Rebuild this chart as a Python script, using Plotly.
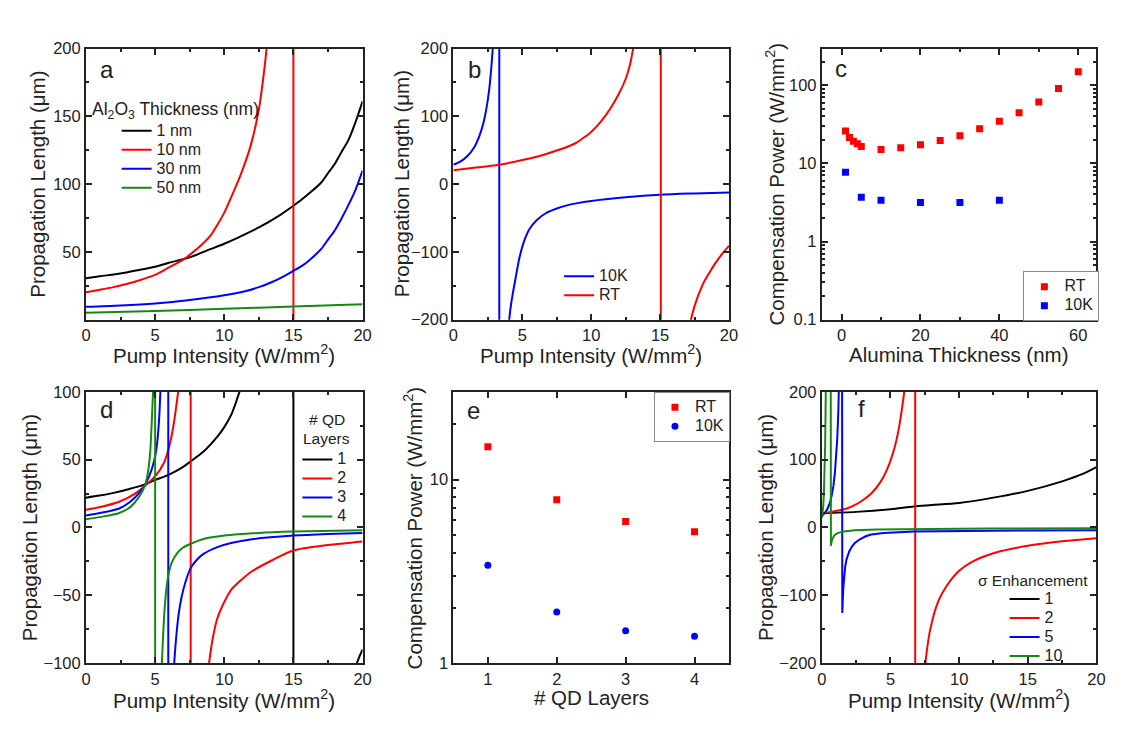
import plotly.graph_objects as go

W, H = 1139, 734
FONT = "Liberation Sans, Arial, sans-serif"
TXT = "#222222"

# ---------------- Panel a: Al2O3 thickness ----------------
a_x_1nm = [0, 1, 2.5, 4, 5, 6, 7.5, 9, 10, 11, 12.5, 14, 15, 16, 17, 17.5, 18, 18.5, 19, 19.5, 20]
a_y_1nm = [30.5, 32, 34, 37, 39, 42, 46, 52, 56, 60.5, 68, 77, 84, 92, 101, 108, 115, 124, 133, 146, 161]
a_x_10nm = [0, 1, 2, 3, 4, 5, 6, 7.14, 8, 8.5, 9, 9.5, 10, 10.7, 11.3, 11.9, 12.5, 12.9, 13.1, 13.3,
            15.0, 15.0, 15.0, 15.0, 20]
a_y_10nm = [20.2, 22, 24, 26.5, 29.5, 33, 38.5, 45, 52, 56.5, 62, 70, 79, 95, 110, 128, 155, 185, 205, 260,
            700, 300, -300, -700, -400]
a_x_30nm = [0, 2.5, 5, 7.5, 10, 11.5, 12.5, 13.5, 14.3, 15, 15.8, 16.5, 17, 17.5, 18, 18.5, 19, 19.5, 20]
a_y_30nm = [9.5, 10.5, 12, 14.5, 18, 21, 24, 28, 32, 36, 41, 47, 52, 59, 66, 75, 85, 96, 110]
a_x_50nm = [0, 5, 10, 15, 20]
a_y_50nm = [5.2, 6.5, 8, 9.7, 11.4]

# ---------------- Panel b: 10K vs RT ----------------
b_x_10K = [0, 0.5, 1.0, 1.5, 1.9, 2.2, 2.4, 2.6, 2.75, 2.87, 3.0, 3.33, 3.33, 3.33, 3.33, 3.95, 4.05, 4.2,
           4.5, 4.8, 5.1, 5.5, 6, 6.7, 7.5, 8.3, 10, 12.5, 15, 17.5, 20]
b_y_10K = [28.6, 33, 41, 54, 72, 92, 112, 140, 172, 205, 260, 700, 260, -260, -700, -230, -200, -175,
           -140, -108, -86, -67, -54, -43, -36, -31, -25, -19.5, -15.7, -13.8, -12.4]
b_x_RT = [0, 1.5, 3.3, 5, 6.5, 7.5, 8.5, 9, 9.5, 10, 10.7, 11.4, 12, 12.5, 12.8, 13, 13.2,
          15.05, 15.05, 15.05, 15.05, 17.1, 17.5, 18.1, 18.6, 19, 19.5, 20]
b_y_RT = [20.5, 24, 28.6, 35.5, 43, 49.5, 57, 62, 69, 77, 92, 112, 133, 155, 175, 195, 225,
          700, 260, -260, -700, -215, -180, -148, -130, -117, -103, -91]

# ---------------- Panel c: compensation power vs alumina thickness ----------------
c_x_RT = [1, 2, 3, 4, 5, 10, 15, 20, 25, 30, 35, 40, 45, 50, 55, 60]
c_y_RT = [26, 21.5, 19.2, 17.8, 16.5, 15.1, 15.8, 17.3, 19.6, 22.6, 27.7, 34.5, 44.6, 61, 90.6, 149]
c_x_10K = [1, 5, 10, 20, 30, 40]
c_y_10K = [7.7, 3.69, 3.38, 3.16, 3.16, 3.38]

# ---------------- Panel d: number of QD layers ----------------
d_x_1 = [0, 1, 2, 3, 4.3, 5, 6, 7, 7.6, 8.5, 9.5, 10, 10.5, 10.8, 11.1, 11.5,
         15, 15, 15, 15, 19.5, 20]
d_y_1 = [22, 23.5, 25.5, 28, 32, 35, 39, 44.5, 49, 56, 67, 74, 83, 91, 100, 112,
         350, 130, -130, -350, -103, -90]
d_x_2 = [0, 1.2, 2.4, 3.4, 4.3, 5.1, 5.6, 5.95, 6.2, 6.4, 6.6, 6.7, 6.9, 7.57, 7.57, 7.57, 7.57,
         8.75, 8.9, 9.2, 9.5, 10, 10.5, 11.2, 11.9, 13.5, 15, 17.5, 20]
d_y_2 = [13, 15.5, 19, 24, 31, 39, 47, 57, 68, 80, 95, 103, 125, 350, 130, -130, -350,
         -115, -100, -80, -67, -55, -46, -39, -33, -24, -17, -13, -10.3]
d_x_3 = [0, 1.2, 2.4, 3.2, 3.8, 4.3, 4.76, 5.05, 5.2, 5.3, 5.38, 5.45, 5.95, 5.95, 5.95, 5.95,
         6.3, 6.4, 6.55, 6.7, 6.9, 7.2, 7.57, 8, 8.5, 9.5, 10.5, 12, 15, 17.5, 20]
d_y_3 = [8.8, 11, 14, 19, 25, 32, 43, 55, 68, 82, 100, 120, 350, 130, -130, -350,
         -115, -97, -78, -64, -52, -40, -30, -24, -19.5, -14.5, -11.5, -8.7, -6, -4.8, -4]
d_x_4 = [0, 1.2, 2.4, 3.2, 3.8, 4.3, 4.5, 4.64, 4.72, 4.8, 4.85, 4.9, 5.0, 5.0, 5.0, 5.0,
         5.42, 5.5, 5.6, 5.7, 5.85, 6.0, 6.2, 6.6, 7.0, 7.57, 8.5, 10, 12.5, 15, 20]
d_y_4 = [6, 8, 10.7, 15, 22, 32, 42, 55, 70, 88, 100, 120, 350, 130, -130, -350,
         -115, -97, -75, -58, -42, -33, -26, -19, -15, -12, -8.5, -6, -4, -3, -2]

# ---------------- Panel e: compensation power vs QD layers ----------------
e_layers = [1, 2, 3, 4]
e_y_RT = [15.1, 7.77, 5.91, 5.19]
e_y_10K = [3.41, 1.90, 1.50, 1.40]

# ---------------- Panel f: sigma enhancement ----------------
f_x_1 = [0, 2.5, 5, 6.7, 8, 10, 12.5, 15, 17.5, 19, 20]
f_y_1 = [21, 23, 27, 31, 33, 36, 44, 54, 68, 79, 89]
f_x_2 = [0, 0.7, 1.5, 2.2, 2.9, 3.6, 4.3, 4.8, 5.3, 5.6, 5.8, 6.0, 6.15, 6.8, 6.8, 6.8, 6.8,
         7.45, 7.6, 7.9, 8.5, 9.1, 10, 11, 12.5, 15, 17.5, 20]
f_y_2 = [21, 23, 26, 31, 39, 50, 68, 88, 118, 145, 170, 200, 240, 700, 260, -260, -700,
         -225, -190, -150, -108, -86, -64, -50, -38, -27, -20.5, -16]
f_x_5 = [0, 0.2, 0.4, 0.6, 0.72, 0.85, 0.95, 1.05, 1.12, 1.2, 1.25, 1.3, 1.45, 1.49, 1.52, 1.56, 1.62,
         1.7, 1.8, 2.0, 2.2, 2.4, 2.8, 3.2, 3.6, 4.5, 6.7, 10, 15, 20]
f_y_5 = [17, 21, 27, 37, 47, 62, 80, 105, 130, 170, 205, 260, 900, -126, -110, -90, -72,
         -58, -47, -35, -28, -23, -17, -13, -10.5, -8, -6, -5, -4.5, -4]
f_x_10 = [0, 0.05, 0.1, 0.15, 0.2, 0.24, 0.27, 0.3, 0.62, 0.66, 0.7, 0.75, 0.82, 0.9, 1.0, 1.2, 1.6,
          2.4, 4, 6.7, 12, 20]
f_y_10 = [14, 20, 30, 50, 80, 120, 170, 220, 900, -27, -22, -18, -15, -12, -10, -8, -6,
          -4, -3, -2.2, -1.5, -1]

# ---------------- tick labels ----------------
lin_ticks_0_20 = [0, 5, 10, 15, 20]
a_yticks = [50, 100, 150, 200]
b_yticks = [-200, -100, 0, 100, 200]
c_xticks = [0, 20, 40, 60]
c_yticks = [0.1, 1, 10, 100]
c_yticktext = ["0.1", "1", "10", "100"]
d_yticks = [-100, -50, 0, 50, 100]
e_yticks = [1, 10]
e_yticktext = ["1", "10"]

RED, BLUE, GREEN, BLACK = "#ff0000", "#0000ff", "#138a13", "#000000"
LEGSIZE = 16


def fx(px):
    return px / W


def fy(py):
    return 1 - py / H


def lname(s):
    return "<span style='font-size:%dpx'>%s</span>" % (LEGSIZE, s)


fig = go.Figure()


def line(x, y, color, name, xa, ya, legend, shape="spline"):
    fig.add_trace(go.Scatter(x=x, y=y, mode="lines", name=lname(name),
                             line=dict(color=color, width=2, shape=shape, smoothing=0.8),
                             xaxis=xa, yaxis=ya, legend=legend))


def pts(x, y, color, name, symbol, xa, ya, legend):
    fig.add_trace(go.Scatter(x=x, y=y, mode="markers", name=lname(name),
                             marker=dict(color=color, size=7, symbol=symbol),
                             xaxis=xa, yaxis=ya, legend=legend))


# a
line(a_x_1nm, a_y_1nm, BLACK, "1 nm", "x", "y", "legend")
line(a_x_10nm, a_y_10nm, RED, "10 nm", "x", "y", "legend")
line(a_x_30nm, a_y_30nm, BLUE, "30 nm", "x", "y", "legend")
line(a_x_50nm, a_y_50nm, GREEN, "50 nm", "x", "y", "legend")
# b
line(b_x_10K, b_y_10K, BLUE, "10K", "x2", "y2", "legend2")
line(b_x_RT, b_y_RT, RED, "RT", "x2", "y2", "legend2")
# c
pts(c_x_RT, c_y_RT, RED, "RT", "square", "x3", "y3", "legend3")
pts(c_x_10K, c_y_10K, BLUE, "10K", "square", "x3", "y3", "legend3")
# d
line(d_x_1, d_y_1, BLACK, "1", "x4", "y4", "legend4")
line(d_x_2, d_y_2, RED, "2", "x4", "y4", "legend4")
line(d_x_3, d_y_3, BLUE, "3", "x4", "y4", "legend4")
line(d_x_4, d_y_4, GREEN, "4", "x4", "y4", "legend4")
# e
pts(e_layers, e_y_RT, RED, "RT", "square", "x5", "y5", "legend5")
pts(e_layers, e_y_10K, BLUE, "10K", "circle", "x5", "y5", "legend5")
# f
line(f_x_1, f_y_1, BLACK, "1", "x6", "y6", "legend6")
line(f_x_2, f_y_2, RED, "2", "x6", "y6", "legend6")
line(f_x_5, f_y_5, BLUE, "5", "x6", "y6", "legend6", shape="linear")
line(f_x_10, f_y_10, GREEN, "10", "x6", "y6", "legend6", shape="linear")

TICKFONT = dict(family=FONT, size=16.5, color=TXT)


def axis(domain, rng, tickvals, ticktext=None, minor=None, typ="linear", anchor=None):
    d = dict(domain=domain, range=rng, type=typ, showline=True, linecolor="#222",
             linewidth=2, mirror="ticks", ticks="inside", ticklen=6, tickwidth=1.5,
             tickcolor="#222", showgrid=False, zeroline=False, tickfont=TICKFONT,
             tickmode="array", tickvals=tickvals, fixedrange=True, anchor=anchor)
    if ticktext is not None:
        d["ticktext"] = ticktext
    if minor is not None:
        m = dict(ticks="inside", ticklen=3, tickwidth=1.5, tickcolor="#222", showgrid=False)
        m.update(minor)
        d["minor"] = m
    return d


cols = [(82, 362), (454, 733), (827, 1105)]
rows = [(318.5, 40.5), (670.5, 392.5)]
XD = [[fx(a), fx(b)] for a, b in cols]
YD = [[fy(b), fy(t)] for b, t in rows]

log_minor_c = [m * 10 ** k for k in (-1, 0, 1) for m in range(2, 10)] + [200]
log_minor_e = [m for m in range(2, 10)] + [20]

fig.update_layout(
    xaxis=axis(XD[0], [0, 20], lin_ticks_0_20, minor=dict(dtick=2.5, tick0=0), anchor="y"),
    yaxis=axis(YD[0], [0, 200], a_yticks, minor=dict(dtick=25, tick0=0), anchor="x"),
    xaxis2=axis(XD[1], [0, 20], lin_ticks_0_20, minor=dict(dtick=2.5, tick0=0), anchor="y2"),
    yaxis2=axis(YD[0], [-200, 200], b_yticks, minor=dict(dtick=50, tick0=0), anchor="x2"),
    xaxis3=axis(XD[2], [-5, 64.6], c_xticks, minor=dict(dtick=10, tick0=0), anchor="y3"),
    yaxis3=axis(YD[0], [-1, 2.47], c_yticks, c_yticktext, minor=dict(tickmode="array", tickvals=log_minor_c), typ="log", anchor="x3"),
    xaxis4=axis(XD[0], [0, 20], lin_ticks_0_20, minor=dict(dtick=2.5, tick0=0), anchor="y4"),
    yaxis4=axis(YD[1], [-100, 100], d_yticks, minor=dict(dtick=25, tick0=0), anchor="x4"),
    xaxis5=axis(XD[1], [0.5, 4.5], e_layers, anchor="y5"),
    yaxis5=axis(YD[1], [0, 1.478], e_yticks, e_yticktext, minor=dict(tickmode="array", tickvals=log_minor_e), typ="log", anchor="x5"),
    xaxis6=axis(XD[2], [0, 20], lin_ticks_0_20, minor=dict(dtick=2.5, tick0=0), anchor="y6"),
    yaxis6=axis(YD[1], [-200, 200], b_yticks, minor=dict(dtick=50, tick0=0), anchor="x6"),
)

LEGFONT = dict(family=FONT, size=12.3, color=TXT)


def legend(xpx, ypx, border=False, xanchor="left", yanchor="top"):
    d = dict(x=fx(xpx), y=fy(ypx), xanchor=xanchor, yanchor=yanchor, font=LEGFONT,
             bgcolor="rgba(255,255,255,0)", borderwidth=0, itemwidth=30,
             tracegroupgap=0, itemclick=False, itemdoubleclick=False)
    if border:
        d.update(bgcolor="white", bordercolor="#888", borderwidth=1)
    return d


fig.update_layout(
    legend=legend(113, 110),
    legend2=legend(561, 259),
    legend3=legend(1108, 320, border=True, xanchor="right", yanchor="bottom"),
    legend4=legend(296, 447),
    legend5=legend(734, 392.5, border=True, xanchor="right", yanchor="top"),
    legend6=legend(1012, 590),
)

ann = []


def text(s, xpx, ypx, size, angle=0, xanchor="center"):
    ann.append(dict(text=s, x=fx(xpx), y=fy(ypx), xref="paper", yref="paper",
                    showarrow=False, textangle=angle, xanchor=xanchor, yanchor="middle",
                    font=dict(family=FONT, size=size, color=TXT)))


PUMP = "Pump Intensity (W/mm<sup>2</sup>)"
PROP = "Propagation Length (μm)"
COMP = "Compensation Power (W/mm<sup>2</sup>)"
TS = 20.5
# x titles
text(PUMP, 222, 354, TS)
text(PUMP, 593.5, 354, TS)
text("Alumina Thickness (nm)", 966, 354, TS)
text(PUMP, 221.5, 707, TS)
text("# QD Layers", 593.5, 706, TS)
text(PUMP, 966, 707, TS)
# y titles
text(PROP, 32, 179.5, TS, -90)
text(PROP, 401, 179.5, TS, -90)
text(COMP, 780, 179.5, TS, -90)
text(PROP, 25, 531.5, TS, -90)
text(COMP, 414, 531.5, TS, -90)
text(PROP, 770, 531.5, TS, -90)
# panel letters
for s, xp, yp in [("a", 103, 62), ("b", 475, 62), ("c", 846, 61),
                  ("d", 103, 411), ("e", 474, 412), ("f", 867, 410)]:
    text(s, xp, yp, 24)
# legend titles
text("Al<sub>2</sub>O<sub>3</sub> Thickness (nm)", 86, 104, 17.5, xanchor="left")
text("# QD", 326, 421, 15.5)
text("Layers", 326, 440, 15.5)
text("σ Enhancement", 1041, 586, 15.5)

fig.update_layout(
    width=W, height=H, margin=dict(l=0, r=0, t=0, b=0),
    paper_bgcolor="white", plot_bgcolor="white",
    annotations=ann, showlegend=True,
    font=dict(family=FONT, color=TXT),
)

fig.write_html("out.html", config={"displayModeBar": False})
